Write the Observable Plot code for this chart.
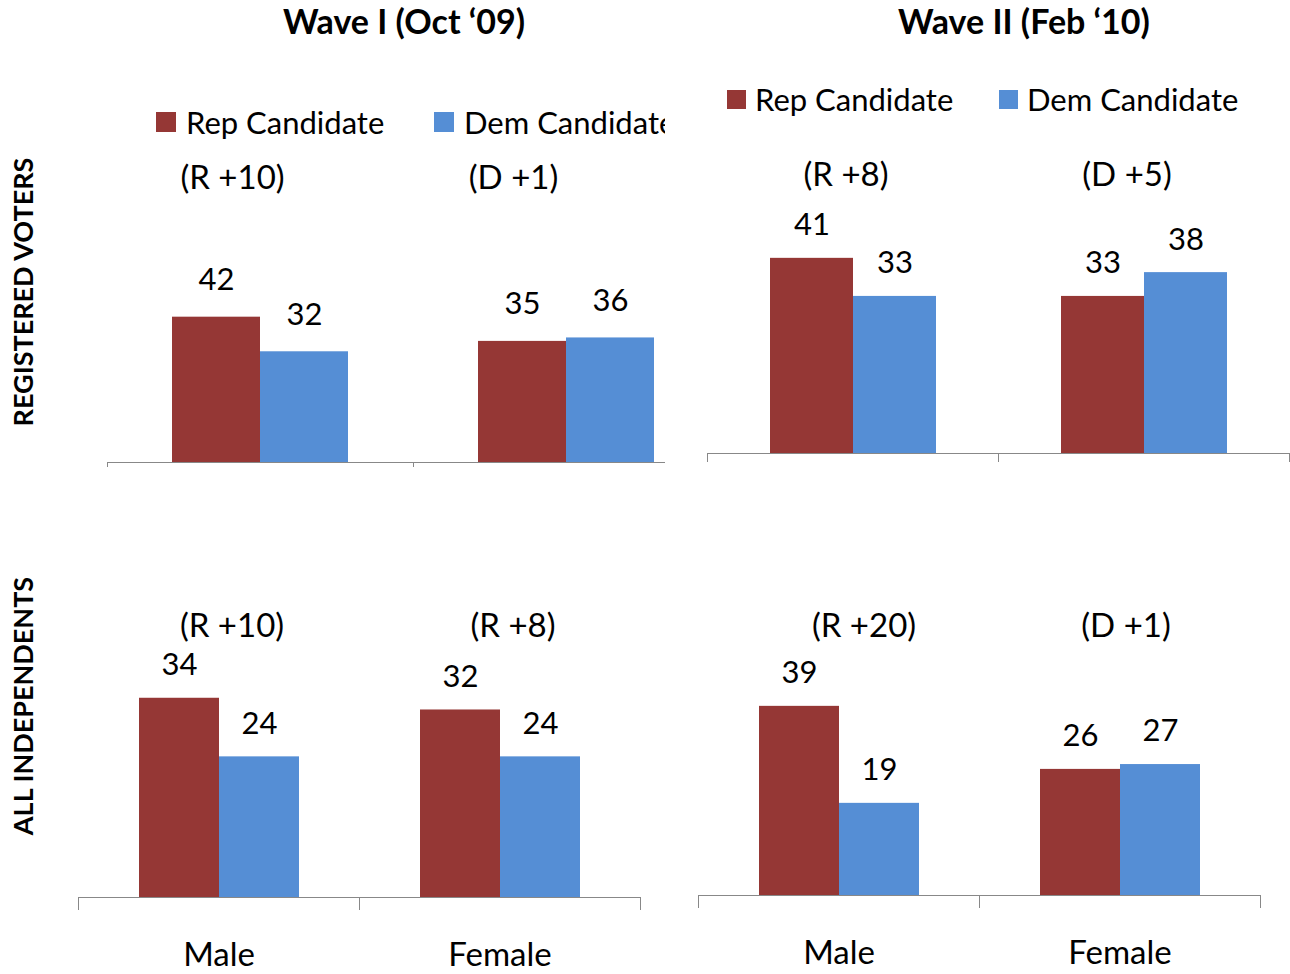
<!DOCTYPE html>
<html><head><meta charset="utf-8">
<script src="https://cdn.jsdelivr.net/npm/d3@7"></script>
<script src="https://cdn.jsdelivr.net/npm/@observablehq/plot@0.6"></script>
<style>
body{margin:0;background:#fff;}
#root{position:relative;width:1290px;height:974px;overflow:hidden;font-family:Lato,"Open Sans",sans-serif;color:#000;}
.abs{position:absolute;}
.title{font-weight:700;font-size:34px;transform:translate(-50%,-50%);white-space:nowrap;}
.rowlab{font-weight:700;font-size:27px;transform:translate(-50%,-50%) rotate(-90deg);white-space:nowrap;}
.leg{display:flex;align-items:center;white-space:nowrap;transform:translateY(-50%);}
.sw{display:inline-block;}
</style></head><body><div id="root"></div>
<script>
// ---- data ----
const genders = ["Male", "Female"];
const parties = ["Rep Candidate", "Dem Candidate"];
const partyColors = ["#953735", "#558ED5"];
const waveTitles = ["Wave I (Oct \u201809)", "Wave II (Feb \u201810)"];
const groupLabels = ["REGISTERED VOTERS", "ALL INDEPENDENTS"];

const regW1Rep = [42, 35], regW1Dem = [32, 36];
const regW2Rep = [41, 33], regW2Dem = [33, 38];
const indW1Rep = [34, 32], indW1Dem = [24, 24];
const indW2Rep = [39, 26], indW2Dem = [19, 27];

const regW1Lead = ["(R +10)", "(D +1)"];
const regW2Lead = ["(R +8)", "(D +5)"];
const indW1Lead = ["(R +10)", "(R +8)"];
const indW2Lead = ["(R +20)", "(D +1)"];

// ---- layout ----
const root = document.getElementById("root");
function el(tag, cls, css, text, parent) {
  const e = document.createElement(tag);
  if (cls) e.className = cls;
  Object.assign(e.style, css || {});
  if (text != null) e.textContent = text;
  (parent || root).appendChild(e);
  return e;
}

// titles
el("div", "abs title", {left: "404px", top: "20px"}, waveTitles[0]);
el("div", "abs title", {left: "1024px", top: "20px"}, waveTitles[1]);
// row labels
el("div", "abs rowlab", {left: "22px", top: "292px"}, groupLabels[0]);
el("div", "abs rowlab", {left: "22px", top: "706px"}, groupLabels[1]);

function legend(parent, cfg) {
  parties.forEach((p, i) => {
    const item = el("div", "abs leg", {left: cfg.x[i] + "px", top: cfg.y + "px", fontSize: cfg.fs + "px"}, null, parent);
    el("span", "sw", {width: cfg.sw + "px", height: cfg.sw + "px", background: partyColors[i], marginRight: cfg.gap + "px"}, null, item);
    el("span", null, {}, p, item);
  });
}

function panel(parent, cfg, rep, dem, leads) {
  const data = genders.flatMap((g, i) => [
    {gender: g, party: parties[0], value: rep[i]},
    {gender: g, party: parties[1], value: dem[i]}
  ]);
  const F = cfg.axisW / 2;
  const plotH = cfg.baseline - cfg.top;
  const height = plotH + cfg.mb;
  const padOuter = (F - 2 * cfg.bw) / (2 * cfg.bw);
  const marks = [
    Plot.barY(data, {fx: "gender", x: "party", y: "value", fill: "party"}),
    Plot.text(data, {fx: "gender", x: "party", y: "value", text: d => String(d.value), dy: -cfg.valOff, lineAnchor: "middle", fill: "#000", fontSize: 31}),
    Plot.ruleY([0], {stroke: "#888"}),
    Plot.frame({anchor: "left", insetTop: plotH, insetBottom: -cfg.tick, stroke: "#888"}),
    Plot.frame({anchor: "right", insetTop: plotH, insetBottom: -cfg.tick, stroke: "#888"})
  ];
  leads.forEach((t, i) => marks.push(
    Plot.text([{gender: genders[i], label: t}], {fx: "gender", text: "label", frameAnchor: "top", dy: cfg.leadY - cfg.top, dx: cfg.leadDx[i], lineAnchor: "middle", fill: "#000", fontSize: 33})
  ));
  const chart = Plot.plot({
    width: cfg.axisW,
    height,
    marginLeft: 0, marginRight: 0, marginTop: 0, marginBottom: cfg.mb,
    style: {fontSize: "33px", fontFamily: "Lato, 'Open Sans', sans-serif", background: "transparent", overflow: "visible", color: "#000"},
    fx: {domain: genders, padding: 0, axis: cfg.showX ? "bottom" : null, tickSize: 0, tickPadding: cfg.xPad, label: null},
    x: {domain: parties, paddingInner: 0, paddingOuter: padOuter, axis: null},
    y: {domain: [0, plotH / cfg.k], axis: null},
    color: {domain: parties, range: partyColors},
    marks
  });
  chart.style.position = "absolute";
  chart.style.left = cfg.left + "px";
  chart.style.top = cfg.top + "px";
  parent.appendChild(chart);
}

// top-left panel is cropped on the right like the reference
const clip1 = el("div", "abs", {left: "0px", top: "0px", width: "665px", height: "520px", overflow: "hidden"});
legend(clip1, {x: [156, 434], y: 122, fs: 31, sw: 20, gap: 10});
panel(clip1, {left: 107, top: 140, axisW: 612, baseline: 462, k: 3.46, bw: 88, mb: 20, tick: 4, valOff: 37, leadY: 178, leadDx: [-28, -53], showX: false}, regW1Rep, regW1Dem, regW1Lead);

legend(root, {x: [727, 999], y: 99, fs: 31, sw: 19, gap: 9});
panel(root, {left: 707, top: 140, axisW: 582, baseline: 453, k: 4.76, bw: 83, mb: 20, tick: 8, valOff: 33, leadY: 175, leadDx: [-7, -17], showX: false}, regW2Rep, regW2Dem, regW2Lead);

panel(root, {left: 78, top: 590, axisW: 562, baseline: 897, k: 5.86, bw: 80, mb: 77, tick: 12, valOff: 33, leadY: 626, leadDx: [13, 13], showX: true, xPad: 45}, indW1Rep, indW1Dem, indW1Lead);
panel(root, {left: 698, top: 590, axisW: 562, baseline: 895, k: 4.85, bw: 80, mb: 79, tick: 12, valOff: 33, leadY: 626, leadDx: [25, 6], showX: true, xPad: 45}, indW2Rep, indW2Dem, indW2Lead);
</script></body></html>
